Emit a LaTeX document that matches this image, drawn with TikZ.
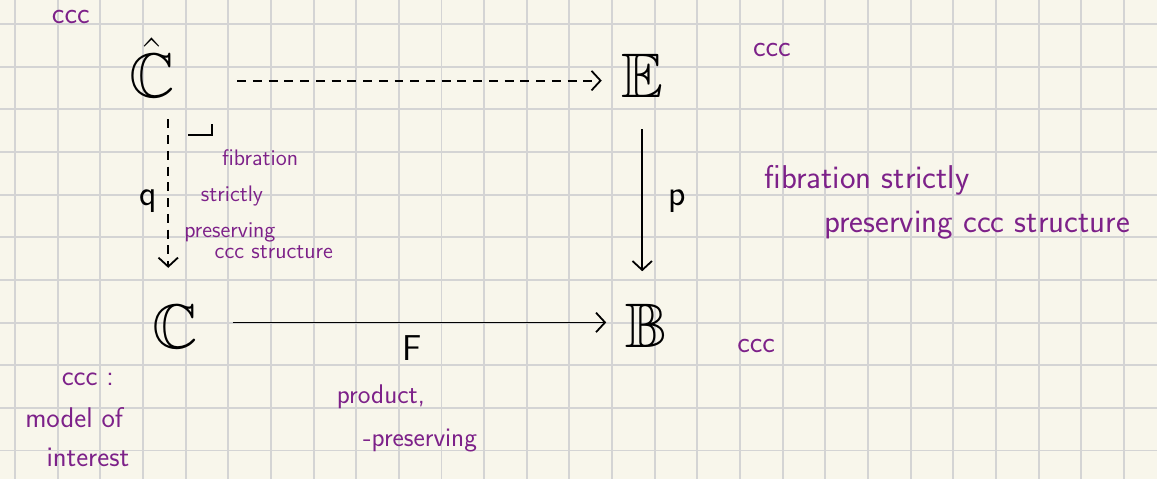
\RequirePackage{fix-cm}
\documentclass[tikz,border=0pt]{standalone}
\usepackage{amssymb}
\usepackage{tikz}
\usetikzlibrary{positioning, arrows.meta}

\definecolor{paper}{HTML}{F8F6EB}
\definecolor{gridgrey}{HTML}{D4D4D4}
\definecolor{notepurple}{HTML}{7D2189}

\begin{document}
\begin{tikzpicture}[>={Straight Barb[length=6pt,width=13pt]},
		obj/.style={inner sep=0pt, font=\fontsize{42}{42}\selectfont},
		lbl/.style={inner sep=1pt, font=\sffamily\fontsize{24}{24}\selectfont},
		note/.style={text=notepurple, inner sep=0pt, font=\sffamily\fontsize{20}{20}\selectfont},
		smallnote/.style={note, font=\sffamily\fontsize{15}{15}\selectfont},
		arr/.style={->, line width=1.2pt},
		darr/.style={arr, dash pattern=on 6pt off 4.5pt}]
	\useasboundingbox (0,0) rectangle (27.13,-11.23);
	\fill[paper] (0,0) rectangle (27.13,-11.23);
	\foreach \x in {0,...,26}
		\draw[gridgrey, line width=1.3pt] (0.352+\x,0) -- (0.352+\x,-11.23);
	\foreach \y in {0,...,10}
		\draw[gridgrey, line width=1.3pt] (0,-0.563-\y) -- (27.13,-0.563-\y);

	\node[obj] (chat) at (3.57,-1.59) {$\hat{\mathbb{C}}$};
	\node[obj, right=10.45cm of chat.south east, anchor=south west] (E) {$\mathbb{E}$};
	\node[obj, below=4.85cm of chat.south, anchor=north, xshift=0.55cm] (C) {$\mathbb{C}$};
	\node[obj, below=4.83cm of E, xshift=3pt] (B) {$\mathbb{B}$};

	\path ([yshift=-3pt]chat.east |- E.west) edge[darr, shorten <=1.45cm, shorten >=0.45cm] ([yshift=-3pt]E.west)
		([xshift=-5pt]C.north |- chat.south) edge[darr, shorten <=0.5cm, shorten >=0.87cm] node[lbl, left=0.2cm] {q} ([xshift=-5pt]C.north)
		(E.south) edge[arr, shorten <=0.73cm, shorten >=0.77cm] node[lbl, right=0.55cm] {p} (E.south |- B.north)
		([yshift=3pt]C.east) edge[arr, shorten <=0.8cm, shorten >=0.45cm] node[lbl, below=0.25cm] {F} ([yshift=3pt]C.east -| B.west);
	\draw[line width=1.2pt] ([shift={(0.84,-1.58)}]chat.center) -- ++(0.56,0) -- ++(0,0.26);

	\node[note] (ccc1) at (1.66,-0.40) {ccc};
	\node[note] (ccc2) at (18.10,-1.17) {ccc};
	\node[note] (ccc3) at (17.73,-8.11) {ccc};

	\node[smallnote] (fib1) at (6.10,-3.70) {fibration};
	\node[smallnote] (fib2) at (5.44,-4.60) {strictly};
	\node[smallnote] (fib3) at (5.39,-5.44) {preserving};
	\node[smallnote] (fib4) at (6.42,-5.91) {ccc structure};

	\node[note, font=\sffamily\fontsize{22}{22}\selectfont] (fibr1) at (20.33,-4.22) {fibration strictly};
	\node[note, font=\sffamily\fontsize{22}{22}\selectfont] (fibr2) at (22.91,-5.28) {preserving ccc structure};

	\node[note, font=\sffamily\fontsize{19}{19}\selectfont] (model1) at (2.06,-8.89) {ccc :};
	\node[note, font=\sffamily\fontsize{19}{19}\selectfont] (model2) at (1.74,-9.80) {model of};
	\node[note, font=\sffamily\fontsize{19}{19}\selectfont] (model3) at (2.06,-10.72) {interest};

	\node[note, font=\sffamily\fontsize{18}{18}\selectfont] (prod1) at (8.93,-9.31) {product,};
	\node[note, font=\sffamily\fontsize{18}{18}\selectfont] (prod2) at (9.85,-10.32) {-preserving};
\end{tikzpicture}
\end{document}
